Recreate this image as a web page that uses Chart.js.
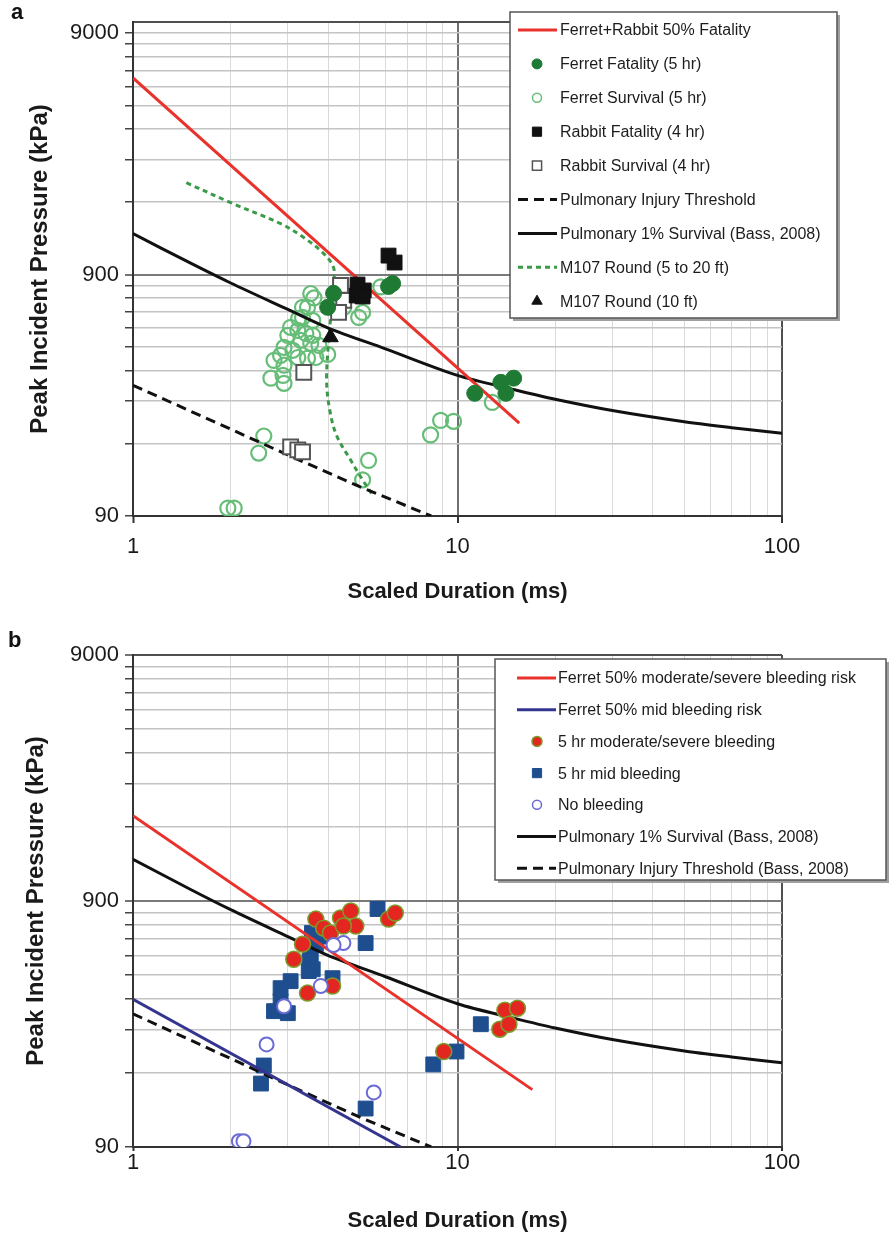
<!DOCTYPE html>
<html>
<head>
<meta charset="utf-8">
<title>Peak incident pressure vs scaled duration</title>
<script src="https://cdn.jsdelivr.net/npm/chart.js@4.4.1/dist/chart.umd.min.js"></script>
<style>
  html, body { margin: 0; padding: 0; background: #fff; }
  #page { position: relative; width: 889px; height: 1236px; overflow: hidden; }
  canvas { position: absolute; left: 0; }
  #chartA { top: 0; }
  #chartB { top: 630px; }
  .panel { position: absolute; font: bold 22px "Liberation Sans", Arial, sans-serif; line-height: 22px; color: #111; }
</style>
</head>
<body>
<div id="page">
  <canvas id="chartA" width="889" height="620"></canvas>
  <canvas id="chartB" width="889" height="606"></canvas>
  <div class="panel" style="left:11px;top:1px;">a</div>
  <div class="panel" style="left:8px;top:629px;">b</div>
</div>
<script>
// axis ticks / grid lines
var xGridValues = [1, 2, 3, 4, 5, 6, 7, 8, 9, 10, 20, 30, 40, 50, 60, 70, 80, 90, 100];
var xLabelValues = [1, 10, 100];
var yGridValues = [90, 180, 270, 360, 450, 540, 630, 720, 810, 900, 1800, 2700, 3600, 4500, 5400, 6300, 7200, 8100, 9000];
var yLabelValues = [90, 900, 9000];

// curves shared by both panels (Bass, 2008)
var bassSurvX = [1, 1.5, 2, 3, 4, 6, 10, 15, 20, 30, 50, 70, 100];
var bassSurvY = [1330, 1005, 830, 645, 540, 443, 344, 300, 274, 246, 221, 209, 198];
var injuryX = [1, 2, 3, 5, 8.3];
var injuryY = [313, 206, 161, 119, 90];

// panel a
var fatal50X = [1, 15.5];
var fatal50Y = [5870, 218];
var ferretFatalX = [4.15, 3.98, 6.13, 6.31, 11.3, 13.6, 14.9, 14.1];
var ferretFatalY = [752, 658, 803, 826, 290, 322, 335, 290];
var ferretSurvX = [3.53, 3.61, 3.33, 3.24, 3.45, 3.33, 3.58, 3.06, 3.22, 3.41, 3.58, 3.00, 3.29, 3.53, 3.74, 2.92, 3.11, 2.85, 3.22, 2.72, 2.92, 3.45, 3.66, 3.98, 2.66, 2.90, 2.92, 4.96, 5.10, 4.46, 5.80, 2.53, 2.44, 5.32, 5.10, 1.96, 2.05, 8.26, 8.87, 9.72, 12.8];
var ferretSurvY = [751, 720, 658, 592, 658, 598, 581, 544, 528, 513, 504, 504, 480, 467, 458, 449, 437, 416, 408, 397, 379, 405, 408, 420, 335, 344, 319, 598, 627, 658, 800, 193, 164, 153, 127, 97, 97, 195, 224, 222, 266];
var rabbitFatalX = [6.13, 6.40, 4.92, 5.14, 4.89, 5.10];
var rabbitFatalY = [1078, 1009, 818, 773, 737, 730];
var rabbitSurvX = [4.36, 4.46, 4.30, 3.36, 3.06, 3.22, 3.33];
var rabbitSurvY = [811, 703, 627, 354, 174, 169, 166];
var m107PathX = [1.46, 2.00, 2.85, 3.36, 3.87, 4.15, 4.15, 4.01, 3.95, 4.04, 4.24, 4.69, 5.10, 5.52];
var m107PathY = [2160, 1786, 1462, 1280, 1099, 962, 826, 480, 328, 247, 194, 153, 127, 108];
var m107TenX = [4.06];
var m107TenY = [495];

// panel b
var bleed50X = [1, 17.0];
var bleed50Y = [1998, 154];
var mild50X = [1, 6.68];
var mild50Y = [359, 90];
var severeX = [3.66, 3.87, 4.36, 4.69, 4.86, 4.06, 4.45, 3.33, 3.13, 3.45, 4.12, 6.13, 6.43, 9.07, 14.0, 15.3, 13.5, 14.4];
var severeY = [760, 698, 768, 820, 712, 667, 712, 601, 522, 380, 406, 760, 804, 220, 324, 330, 271, 284];
var mildX = [5.67, 5.21, 3.56, 3.45, 3.66, 3.53, 3.50, 3.58, 3.48, 4.12, 3.06, 2.85, 2.85, 2.72, 3.00, 2.53, 2.48, 5.21, 8.42, 9.93, 11.8, 3.98];
var mildY = [835, 607, 667, 601, 601, 547, 513, 475, 467, 437, 425, 398, 353, 321, 315, 193, 163, 129, 195, 220, 284, 645];
var noBleedX = [4.45, 4.15, 3.79, 2.92, 2.58, 5.52, 2.12, 2.19];
var noBleedY = [607, 596, 406, 336, 235, 150, 95, 95];

Chart.defaults.font.family = '"Liberation Sans", Arial, Helvetica, sans-serif';
Chart.defaults.color = '#1a1a1a';

function pts(xs, ys) {
    return xs.map(function(x, i) { return { x: x, y: ys[i] }; });
}

function curve(label, xs, ys, color, dash, order, tension) {
    return {
        label: label,
        data: pts(xs, ys),
        showLine: true,
        borderColor: color,
        borderWidth: 3,
        borderDash: dash,
        pointRadius: 0,
        tension: tension || 0,
        fill: false,
        order: order
    };
}

function marks(label, xs, ys, style, radius, fillColor, edgeColor, edgeWidth, order, keySize) {
    return {
        label: label,
        data: pts(xs, ys),
        showLine: false,
        pointStyle: style,
        pointRadius: radius,
        pointBackgroundColor: fillColor,
        pointBorderColor: edgeColor,
        pointBorderWidth: edgeWidth,
        keySize: keySize,
        order: order
    };
}

function drawMarker(ctx, style, x, y, r) {
    ctx.beginPath();
    if (style === 'rect') {
        var s = r * Math.SQRT1_2;
        ctx.rect(x - s, y - s, 2 * s, 2 * s);
    } else if (style === 'triangle') {
        ctx.moveTo(x, y - r);
        ctx.lineTo(x + 0.866 * r, y + 0.5 * r);
        ctx.lineTo(x - 0.866 * r, y + 0.5 * r);
        ctx.closePath();
    } else {
        ctx.arc(x, y, r, 0, Math.PI * 2);
    }
    ctx.fill();
    ctx.stroke();
}

// boxed legend inside the plot area, one row per dataset
var boxLegend = {
    id: 'boxLegend',
    afterDraw: function(chart, args, o) {
        var ctx = chart.ctx;
        ctx.save();
        ctx.fillStyle = '#a0a0a0';
        ctx.fillRect(o.left + 3, o.top + 3, o.width, o.height);
        ctx.fillStyle = '#fff';
        ctx.fillRect(o.left, o.top, o.width, o.height);
        ctx.strokeStyle = '#555';
        ctx.lineWidth = 1.5;
        ctx.strokeRect(o.left, o.top, o.width, o.height);

        ctx.font = o.fontSize + 'px "Liberation Sans", Arial, sans-serif';
        ctx.textBaseline = 'middle';
        chart.data.datasets.forEach(function(ds, i) {
            var y = o.firstRow + i * o.rowGap;
            ctx.save();
            if (ds.showLine) {
                ctx.strokeStyle = ds.borderColor;
                ctx.lineWidth = ds.borderWidth;
                ctx.setLineDash(ds.borderDash || []);
                ctx.beginPath();
                ctx.moveTo(o.sampleX1, y);
                ctx.lineTo(o.sampleX2, y);
                ctx.stroke();
            } else {
                ctx.fillStyle = ds.pointBackgroundColor;
                ctx.strokeStyle = ds.pointBorderColor;
                ctx.lineWidth = Math.min(ds.pointBorderWidth, 1.5);
                drawMarker(ctx, ds.pointStyle, o.markX, y, ds.keySize);
            }
            ctx.restore();
            ctx.fillStyle = '#1c1c1c';
            ctx.fillText(ds.label, o.textX, y + 1);
        });
        ctx.restore();
    }
};

function has(list, v) {
    return list.indexOf(v) >= 0;
}

function buildScales(s) {
    var yTicks = s.yMax > 9000 ? yGridValues.concat([s.yMax]) : yGridValues;
    return {
        x: {
            type: 'logarithmic',
            min: 1,
            max: 100,
            afterBuildTicks: function(axis) {
                axis.ticks = xGridValues.map(function(v) { return { value: v }; });
            },
            afterFit: function(axis) { axis.height = s.xHeight; },
            grid: {
                color: function(c) {
                    var v = c.tick ? c.tick.value : 0;
                    if (v === 10) return '#707070';
                    if (v === 100) return '#505050';
                    return '#d9d9d9';
                },
                lineWidth: function(c) {
                    var v = c.tick ? c.tick.value : 0;
                    return (v === 10 || v === 100) ? 2 : 1;
                },
                tickLength: s.xTickLen,
                tickWidth: 2,
                tickColor: function(c) {
                    return c.tick && has(xLabelValues, c.tick.value) ? '#333' : 'rgba(0,0,0,0)';
                }
            },
            border: { color: '#333', width: 2 },
            ticks: {
                autoSkip: false,
                maxRotation: 0,
                padding: s.xTickPad,
                font: { size: 22 },
                callback: function(v) { return has(xLabelValues, v) ? String(v) : ''; }
            },
            title: {
                display: true,
                text: 'Scaled Duration (ms)',
                font: { size: 22, weight: 'bold' },
                padding: { top: 0, bottom: s.xTitlePad }
            }
        },
        y: {
            type: 'logarithmic',
            min: 90,
            max: s.yMax,
            afterBuildTicks: function(axis) {
                axis.ticks = yTicks.map(function(v) { return { value: v }; });
            },
            afterFit: function(axis) { axis.width = 133; },
            grid: {
                color: function(c) {
                    var v = c.tick ? c.tick.value : 0;
                    if (v === s.yMax) return '#505050';
                    if (v === 900) return '#7a7a7a';
                    return '#c4c4c4';
                },
                lineWidth: function(c) {
                    var v = c.tick ? c.tick.value : 0;
                    return (v === 900 || v === s.yMax) ? 2 : 1.5;
                },
                tickLength: 8,
                tickWidth: 1.5,
                tickColor: function(c) {
                    return c.tick && c.tick.value > 9000 ? 'rgba(0,0,0,0)' : '#444';
                }
            },
            border: { color: '#333', width: 2 },
            ticks: {
                autoSkip: false,
                padding: 6,
                font: { size: 22 },
                callback: function(v) { return has(yLabelValues, v) ? String(v) : ''; }
            },
            title: {
                display: true,
                text: 'Peak Incident Pressure (kPa)',
                font: { size: 24, weight: 'bold' },
                padding: { top: s.yTitlePad, bottom: 0 }
            }
        }
    };
}

function makeChart(id, datasets, s, legendOpts) {
    return new Chart(document.getElementById(id), {
        type: 'scatter',
        data: { datasets: datasets },
        options: {
            responsive: false,
            animation: false,
            events: [],
            devicePixelRatio: 1,
            layout: { padding: { left: 0, top: s.top, right: 107, bottom: 0 } },
            scales: buildScales(s),
            plugins: {
                legend: { display: false },
                tooltip: { enabled: false },
                boxLegend: legendOpts
            }
        },
        plugins: [boxLegend]
    });
}

var darkGreen = '#1f7a34';
var lightGreen = '#66bd77';

makeChart('chartA', [
    curve('Ferret+Rabbit 50% Fatality', fatal50X, fatal50Y, '#e8322b', [], 3),
    marks('Ferret Fatality (5 hr)', ferretFatalX, ferretFatalY, 'circle', 8, darkGreen, darkGreen, 1, 0, 5),
    marks('Ferret Survival (5 hr)', ferretSurvX, ferretSurvY, 'circle', 7.5, 'rgba(0,0,0,0)', lightGreen, 2.2, 9, 4.5),
    marks('Rabbit Fatality (4 hr)', rabbitFatalX, rabbitFatalY, 'rect', 10.5, '#111', '#111', 1, 0, 6.5),
    marks('Rabbit Survival (4 hr)', rabbitSurvX, rabbitSurvY, 'rect', 10.5, '#fff', '#555', 2, 1, 6.5),
    curve('Pulmonary Injury Threshold', injuryX, injuryY, '#111', [10, 6], 4),
    curve('Pulmonary 1% Survival (Bass, 2008)', bassSurvX, bassSurvY, '#111', [], 4, 0.3),
    curve('M107 Round (5 to 20 ft)', m107PathX, m107PathY, '#3a9a47', [5, 4], 5, 0.35),
    marks('M107 Round (10 ft)', m107TenX, m107TenY, 'triangle', 9, '#111', '#111', 1, 0, 6)
], { top: 22, yMax: 10000, xHeight: 104, xTickLen: 7, xTickPad: 11, xTitlePad: 15, yTitlePad: 26 },
{ left: 510, top: 12, width: 327, height: 306, firstRow: 30, rowGap: 33.9,
  sampleX1: 518, sampleX2: 557, markX: 537, textX: 560, fontSize: 16 });

makeChart('chartB', [
    curve('Ferret 50% moderate/severe bleeding risk', bleed50X, bleed50Y, '#e8322b', [], 3),
    curve('Ferret 50% mid bleeding risk', mild50X, mild50Y, '#34358f', [], 3),
    marks('5 hr moderate/severe bleeding', severeX, severeY, 'circle', 8, '#e3261f', '#7f9a2c', 1.5, 1, 5),
    marks('5 hr mid bleeding', mildX, mildY, 'rect', 10.5, '#1f4e8f', '#1f4e8f', 1, 6, 6.5),
    marks('No bleeding', noBleedX, noBleedY, 'circle', 7, '#fff', '#6a6ad6', 2, 0, 4.5),
    curve('Pulmonary 1% Survival (Bass, 2008)', bassSurvX, bassSurvY, '#111', [], 3, 0.3),
    curve('Pulmonary Injury Threshold (Bass, 2008)', injuryX, injuryY, '#111', [10, 6], 3)
], { top: 25, yMax: 9000, xHeight: 89, xTickLen: 4, xTickPad: -1, xTitlePad: 2, yTitlePad: 22 },
{ left: 495, top: 29, width: 391, height: 221, firstRow: 48, rowGap: 31.7,
  sampleX1: 517, sampleX2: 556, markX: 537, textX: 558, fontSize: 16 });
</script>
</body>
</html>
